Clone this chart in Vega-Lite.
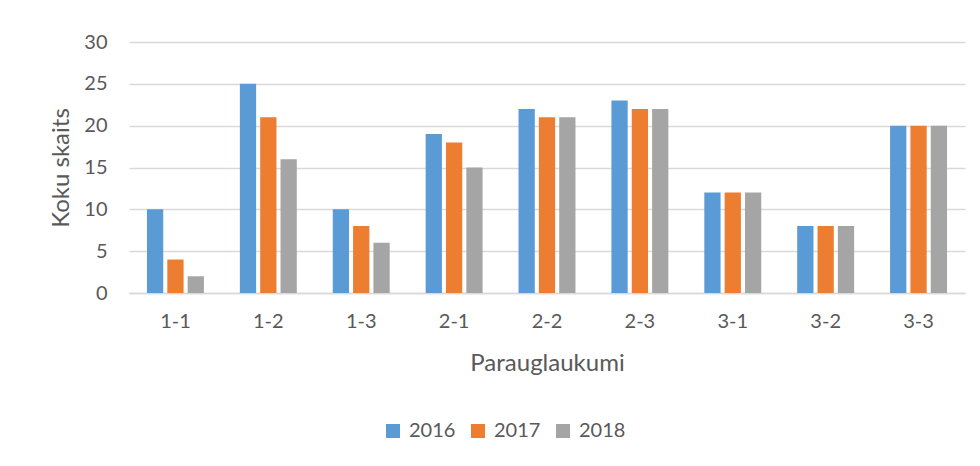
{
  "$schema": "https://vega.github.io/schema/vega-lite/v6.json",
  "autosize": "none",
  "width": 836,
  "height": 251,
  "padding": {"left": 129, "top": 42, "right": 15, "bottom": 173},
  "background": "white",
  "config": {
    "font": "Lato",
    "view": {"stroke": null},
    "axis": {"labelColor": "#595959", "titleColor": "#595959", "labelFont": "Lato", "titleFont": "Lato"}
  },
  "data": {
    "values": [
      {"plot": "1-1", "year": "2016", "count": 10},
      {"plot": "1-1", "year": "2017", "count": 4},
      {"plot": "1-1", "year": "2018", "count": 2},
      {"plot": "1-2", "year": "2016", "count": 25},
      {"plot": "1-2", "year": "2017", "count": 21},
      {"plot": "1-2", "year": "2018", "count": 16},
      {"plot": "1-3", "year": "2016", "count": 10},
      {"plot": "1-3", "year": "2017", "count": 8},
      {"plot": "1-3", "year": "2018", "count": 6},
      {"plot": "2-1", "year": "2016", "count": 19},
      {"plot": "2-1", "year": "2017", "count": 18},
      {"plot": "2-1", "year": "2018", "count": 15},
      {"plot": "2-2", "year": "2016", "count": 22},
      {"plot": "2-2", "year": "2017", "count": 21},
      {"plot": "2-2", "year": "2018", "count": 21},
      {"plot": "2-3", "year": "2016", "count": 23},
      {"plot": "2-3", "year": "2017", "count": 22},
      {"plot": "2-3", "year": "2018", "count": 22},
      {"plot": "3-1", "year": "2016", "count": 12},
      {"plot": "3-1", "year": "2017", "count": 12},
      {"plot": "3-1", "year": "2018", "count": 12},
      {"plot": "3-2", "year": "2016", "count": 8},
      {"plot": "3-2", "year": "2017", "count": 8},
      {"plot": "3-2", "year": "2018", "count": 8},
      {"plot": "3-3", "year": "2016", "count": 20},
      {"plot": "3-3", "year": "2017", "count": 20},
      {"plot": "3-3", "year": "2018", "count": 20}
    ]
  },
  "mark": {"type": "bar"},
  "encoding": {
    "x": {
      "field": "plot", "type": "nominal", "sort": null,
      "scale": {"paddingInner": 0.387, "paddingOuter": 0.1935},
      "axis": {
        "title": "Parauglaukumi", "titleFontSize": 24, "titlePadding": 20, "titleFontWeight": "normal",
        "labelAngle": 0, "labelFontSize": 20, "labelPadding": 18,
        "ticks": false, "domainColor": "#D9D9D9", "domainWidth": 1.5
      }
    },
    "xOffset": {"field": "year", "type": "nominal", "scale": {"paddingInner": 0.2}},
    "y": {
      "field": "count", "type": "quantitative",
      "scale": {"domain": [0, 30]},
      "axis": {
        "title": "Koku skaits", "titleFontSize": 24, "titleFontWeight": "normal", "titlePadding": 10,
        "values": [0, 5, 10, 15, 20, 25, 30], "labelFontSize": 20, "labelPadding": 22,
        "ticks": false, "domain": false, "gridColor": "#D9D9D9", "gridWidth": 1.5
      }
    },
    "color": {
      "field": "year", "type": "nominal",
      "scale": {"domain": ["2016", "2017", "2018"], "range": ["#5B9BD5", "#ED7D31", "#A5A5A5"]},
      "legend": {
        "title": null, "orient": "none", "direction": "horizontal",
        "legendX": 254, "legendY": 379,
        "symbolType": "square", "symbolSize": 196, "symbolStrokeWidth": 0,
        "labelFontSize": 20, "labelColor": "#595959", "labelFont": "Lato",
        "columnPadding": 12, "labelOffset": 6
      }
    }
  }
}
